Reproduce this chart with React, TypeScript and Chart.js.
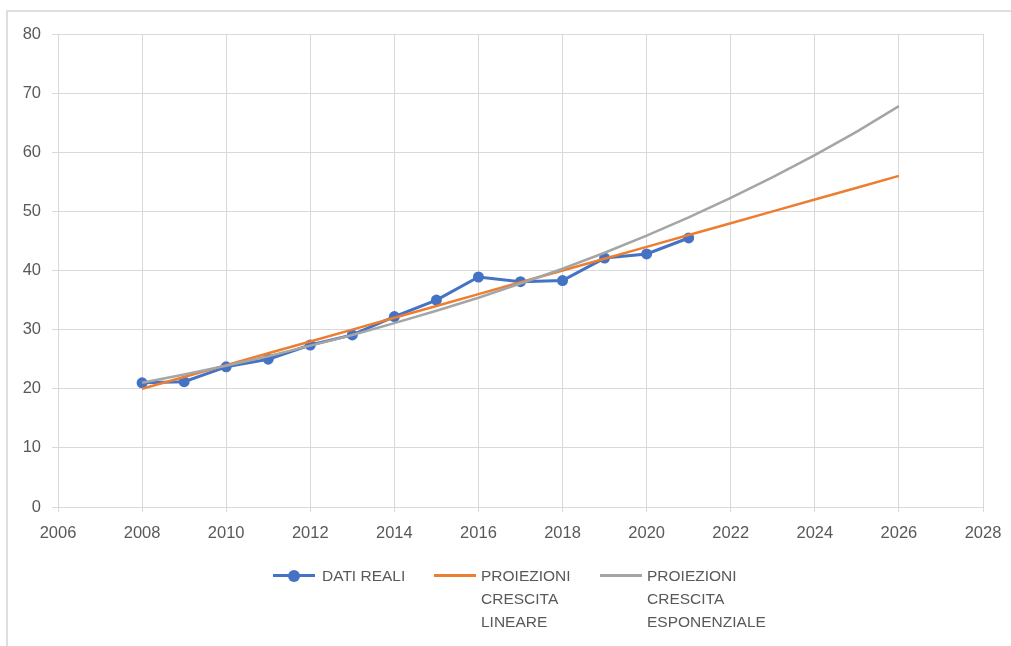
import React, { useEffect, useRef } from "react";
import { Chart, registerables } from "chart.js";

Chart.register(...registerables);

const realYears = [2008, 2009, 2010, 2011, 2012, 2013, 2014, 2015, 2016, 2017, 2018, 2019, 2020, 2021];
const realValues = [21.0, 21.2, 23.7, 25.0, 27.4, 29.1, 32.2, 35.0, 38.9, 38.1, 38.3, 42.1, 42.8, 45.5];

const projYears = [2008, 2009, 2010, 2011, 2012, 2013, 2014, 2015, 2016, 2017, 2018, 2019, 2020, 2021, 2022, 2023, 2024, 2025, 2026];
const linearValues = [20.0, 22.0, 24.0, 26.0, 28.0, 30.0, 32.0, 34.0, 36.0, 38.0, 40.0, 42.0, 44.0, 46.0, 48.0, 50.0, 52.0, 54.0, 56.0];
const expValues = [21.0, 22.4, 23.9, 25.5, 27.3, 29.1, 31.1, 33.2, 35.4, 37.8, 40.3, 43.0, 45.9, 49.0, 52.3, 55.8, 59.5, 63.5, 67.8];

const seriesNames = ["DATI REALI", "PROIEZIONI\nCRESCITA\nLINEARE", "PROIEZIONI\nCRESCITA\nESPONENZIALE"];
const seriesColors = ["#4472C4", "#ED7D31", "#A5A5A5"];

const xMin = 2006;
const xMax = 2028;
const xStep = 2;
const yMin = 0;
const yMax = 80;
const yStep = 10;

const gridColor = "#d9d9d9";
const textColor = "#595959";
const fontFamily = "'Liberation Sans', Arial, sans-serif";

const toPoints = (xs: number[], ys: number[]) => xs.map((x, i) => ({ x, y: ys[i] }));

export default function App() {
  const canvasRef = useRef<HTMLCanvasElement | null>(null);

  useEffect(() => {
    document.body.style.overflow = "hidden";
    const canvas = canvasRef.current;
    if (!canvas) return;
    const chart = new Chart(canvas, {
      type: "line",
      data: {
        datasets: [
          {
            label: seriesNames[0],
            data: toPoints(realYears, realValues),
            borderColor: seriesColors[0],
            backgroundColor: seriesColors[0],
            borderWidth: 3,
            pointRadius: 5.5,
            pointHoverRadius: 5.5,
            pointBorderWidth: 0,
            order: 2,
          },
          {
            label: seriesNames[1],
            data: toPoints(projYears, linearValues),
            borderColor: seriesColors[1],
            backgroundColor: seriesColors[1],
            borderWidth: 2.5,
            pointRadius: 0,
            order: 1,
          },
          {
            label: seriesNames[2],
            data: toPoints(projYears, expValues),
            borderColor: seriesColors[2],
            backgroundColor: seriesColors[2],
            borderWidth: 2.5,
            pointRadius: 0,
            order: 0,
          },
        ],
      },
      options: {
        responsive: false,
        animation: false,
        layout: { padding: { left: 8, right: 28, top: 34, bottom: 99 } },
        plugins: {
          legend: { display: false },
          tooltip: { enabled: false },
        },
        scales: {
          x: {
            type: "linear",
            min: xMin,
            max: xMax,
            afterFit: (scale: any) => {
              scale.height = 40;
              scale.paddingLeft = 0;
              scale.paddingRight = 0;
            },
            ticks: {
              stepSize: xStep,
              color: textColor,
              font: { family: fontFamily, size: 16.5 },
              padding: 12,
              maxRotation: 0,
              callback: (v: any) => String(v),
            },
            grid: { color: gridColor, lineWidth: 1, tickLength: 5, drawTicks: true },
            border: { color: gridColor, width: 1 },
          },
          y: {
            type: "linear",
            min: yMin,
            max: yMax,
            afterFit: (scale: any) => {
              scale.width = 50;
              scale.paddingTop = 0;
              scale.paddingBottom = 0;
            },
            ticks: {
              stepSize: yStep,
              color: textColor,
              font: { family: fontFamily, size: 16.5 },
              padding: 11,
            },
            grid: { color: gridColor, lineWidth: 1, tickLength: 6, drawTicks: true },
            border: { color: gridColor, width: 1 },
          },
        },
      },
    });
    return () => chart.destroy();
  }, []);

  const legendItems = [
    { left: 273, textLeft: 322, marker: true },
    { left: 434, textLeft: 481, marker: false },
    { left: 600, textLeft: 647, marker: false },
  ];

  return (
    <div>
      <div
        style={{
          position: "fixed",
          left: 6,
          top: 10,
          right: -4,
          bottom: -4,
          border: "2px solid #dedede",
          boxSizing: "border-box",
        }}
      />
      <canvas
        ref={canvasRef}
        width={1011}
        height={646}
        style={{ position: "fixed", left: 0, top: 0, width: 1011, height: 646 }}
      />
      {legendItems.map((item, i) => (
        <React.Fragment key={i}>
          <div
            style={{
              position: "fixed",
              left: item.left,
              top: 574,
              width: 42,
              height: 3,
              background: seriesColors[i],
            }}
          />
          {item.marker && (
            <div
              style={{
                position: "fixed",
                left: item.left + 15,
                top: 569.5,
                width: 12,
                height: 12,
                borderRadius: "50%",
                background: seriesColors[i],
              }}
            />
          )}
          <div
            style={{
              position: "fixed",
              left: item.textLeft,
              top: 564,
              fontFamily,
              fontSize: 15.5,
              lineHeight: "23px",
              color: textColor,
              whiteSpace: "pre",
            }}
          >
            {seriesNames[i]}
          </div>
        </React.Fragment>
      ))}
    </div>
  );
}
